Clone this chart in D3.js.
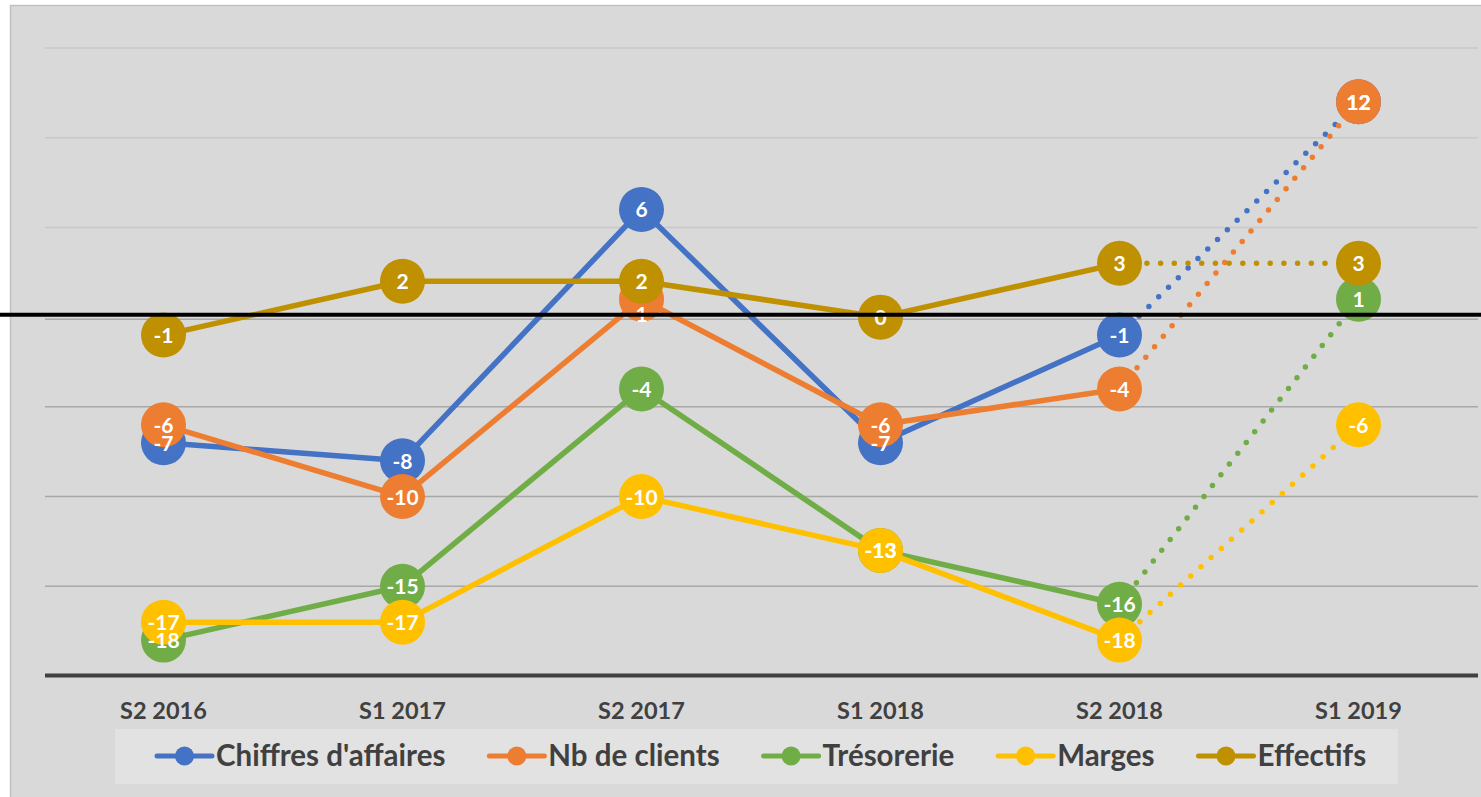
<!DOCTYPE html>
<html>
<head>
<meta charset="utf-8">
<script src="https://cdn.jsdelivr.net/npm/d3@7"></script>
<style>
  body { margin: 0; background: #fff; }
  svg text { font-family: Lato, "Open Sans", sans-serif; font-weight: bold; }
</style>
</head>
<body>
<div id="container"></div>
<script>
// ---- data ----
const categories = ['S2 2016', 'S1 2017', 'S2 2017', 'S1 2018', 'S2 2018', 'S1 2019'];
const chiffresAffaires = [-7, -8, 6, -7, -1, 12];
const nbClients = [-6, -10, 1, -6, -4, 12];
const tresorerie = [-18, -15, -4, -13, -16, 1];
const marges = [-17, -17, -10, -13, -18, -6];
const effectifs = [-1, 2, 2, 0, 3, 3];
const seriesNames = ["Chiffres d'affaires", 'Nb de clients', 'Trésorerie', 'Marges', 'Effectifs'];
const gridValues = [15, 10, 5, 0, -5, -10, -15];

const colors = ['#4472c4', '#ed7d31', '#70ad47', '#ffc000', '#bf9000'];
const seriesValues = [chiffresAffaires, nbClients, tresorerie, marges, effectifs];

// one label was dragged down by hand in the original chart
const movedLabels = { 'Nb de clients|S2 2017': 15 };

// ---- svg ----
const width = 1481;
const height = 797;
const svg = d3.select('#container').append('svg')
  .attr('width', width)
  .attr('height', height);

svg.append('rect')
  .attr('x', 10.5).attr('y', 5.5)
  .attr('width', width).attr('height', height)
  .attr('fill', '#d9d9d9')
  .attr('stroke', '#c2c2c2')
  .attr('stroke-width', 1.5);

const x = d3.scaleBand().domain(categories).range([44, 1478]).padding(0);
const y = d3.scaleLinear().domain([-20, 15]).range([676, 48]);
const cx = (c) => x(c) + x.bandwidth() / 2;

// gridlines
svg.append('g').selectAll('line')
  .data(gridValues)
  .enter().append('line')
  .attr('x1', 45).attr('x2', 1478)
  .attr('y1', (d) => y(d) + (d === 0 ? 2 : 0))
  .attr('y2', (d) => y(d) + (d === 0 ? 2 : 0))
  .attr('stroke', (d) => d > 0 ? '#c8c8c8' : '#a8a8a8')
  .attr('stroke-width', 1.5);

// bottom axis line
svg.append('line')
  .attr('x1', 45).attr('x2', 1478)
  .attr('y1', y(-20) - 0.5).attr('y2', y(-20) - 0.5)
  .attr('stroke', '#404040')
  .attr('stroke-width', 4);

// ---- series ----
const line = d3.line().x((d) => cx(d.c)).y((d) => y(d.v));
const allLabels = [];

seriesValues.forEach((vals, si) => {
  const pts = vals.map((v, i) => ({ c: categories[i], v: v, s: seriesNames[si] }));
  const g = svg.append('g');

  g.append('path')
    .attr('d', line(pts.slice(0, 5)))
    .attr('fill', 'none')
    .attr('stroke', colors[si])
    .attr('stroke-width', 5.5)
    .attr('stroke-linejoin', 'round');

  g.append('path')
    .attr('d', line(pts.slice(4)))
    .attr('fill', 'none')
    .attr('stroke', colors[si])
    .attr('stroke-width', 5.5)
    .attr('stroke-linecap', 'round')
    .attr('stroke-dasharray', '0 13.7');

  g.selectAll('circle')
    .data(pts)
    .enter().append('circle')
    .attr('cx', (d) => cx(d.c))
    .attr('cy', (d) => y(d.v))
    .attr('r', 22.5)
    .attr('fill', colors[si]);

  pts.forEach((p) => allLabels.push(p));
});

// data labels sit above every marker
svg.append('g').selectAll('text')
  .data(allLabels)
  .enter().append('text')
  .attr('x', (d) => cx(d.c))
  .attr('y', (d) => y(d.v) + 8 + (movedLabels[d.s + '|' + d.c] || 0))
  .attr('text-anchor', 'middle')
  .attr('fill', '#fff')
  .style('font-size', '21px')
  .text((d) => d.v);

// zero line (black, across the whole picture)
svg.append('line')
  .attr('x1', 0).attr('x2', width)
  .attr('y1', y(0) - 2.5).attr('y2', y(0) - 2.5)
  .attr('stroke', '#000')
  .attr('stroke-width', 4);

// x labels
svg.append('g').selectAll('text')
  .data(categories)
  .enter().append('text')
  .attr('x', (d) => cx(d))
  .attr('y', 719)
  .attr('text-anchor', 'middle')
  .attr('fill', '#404040')
  .style('font-size', '23.5px')
  .text((d) => d);

// ---- legend ----
const legend = svg.append('g');
legend.append('rect')
  .attr('x', 115).attr('y', 729)
  .attr('width', 1283).attr('height', 55)
  .attr('fill', '#e2e2e2');

const legendY = 756;
let lx = 157;
seriesNames.forEach((name, i) => {
  const item = legend.append('g');
  item.append('line')
    .attr('x1', lx).attr('x2', lx + 55)
    .attr('y1', legendY).attr('y2', legendY)
    .attr('stroke', colors[i])
    .attr('stroke-width', 5)
    .attr('stroke-linecap', 'round');
  item.append('circle')
    .attr('cx', lx + 27.5).attr('cy', legendY)
    .attr('r', 9.5)
    .attr('fill', colors[i]);
  const t = item.append('text')
    .attr('x', lx + 59)
    .attr('y', legendY + 10)
    .attr('fill', '#404040')
    .style('font-size', '29.5px')
    .text(name);
  lx += 59 + t.node().getComputedTextLength() + 44;
});
</script>
</body>
</html>
